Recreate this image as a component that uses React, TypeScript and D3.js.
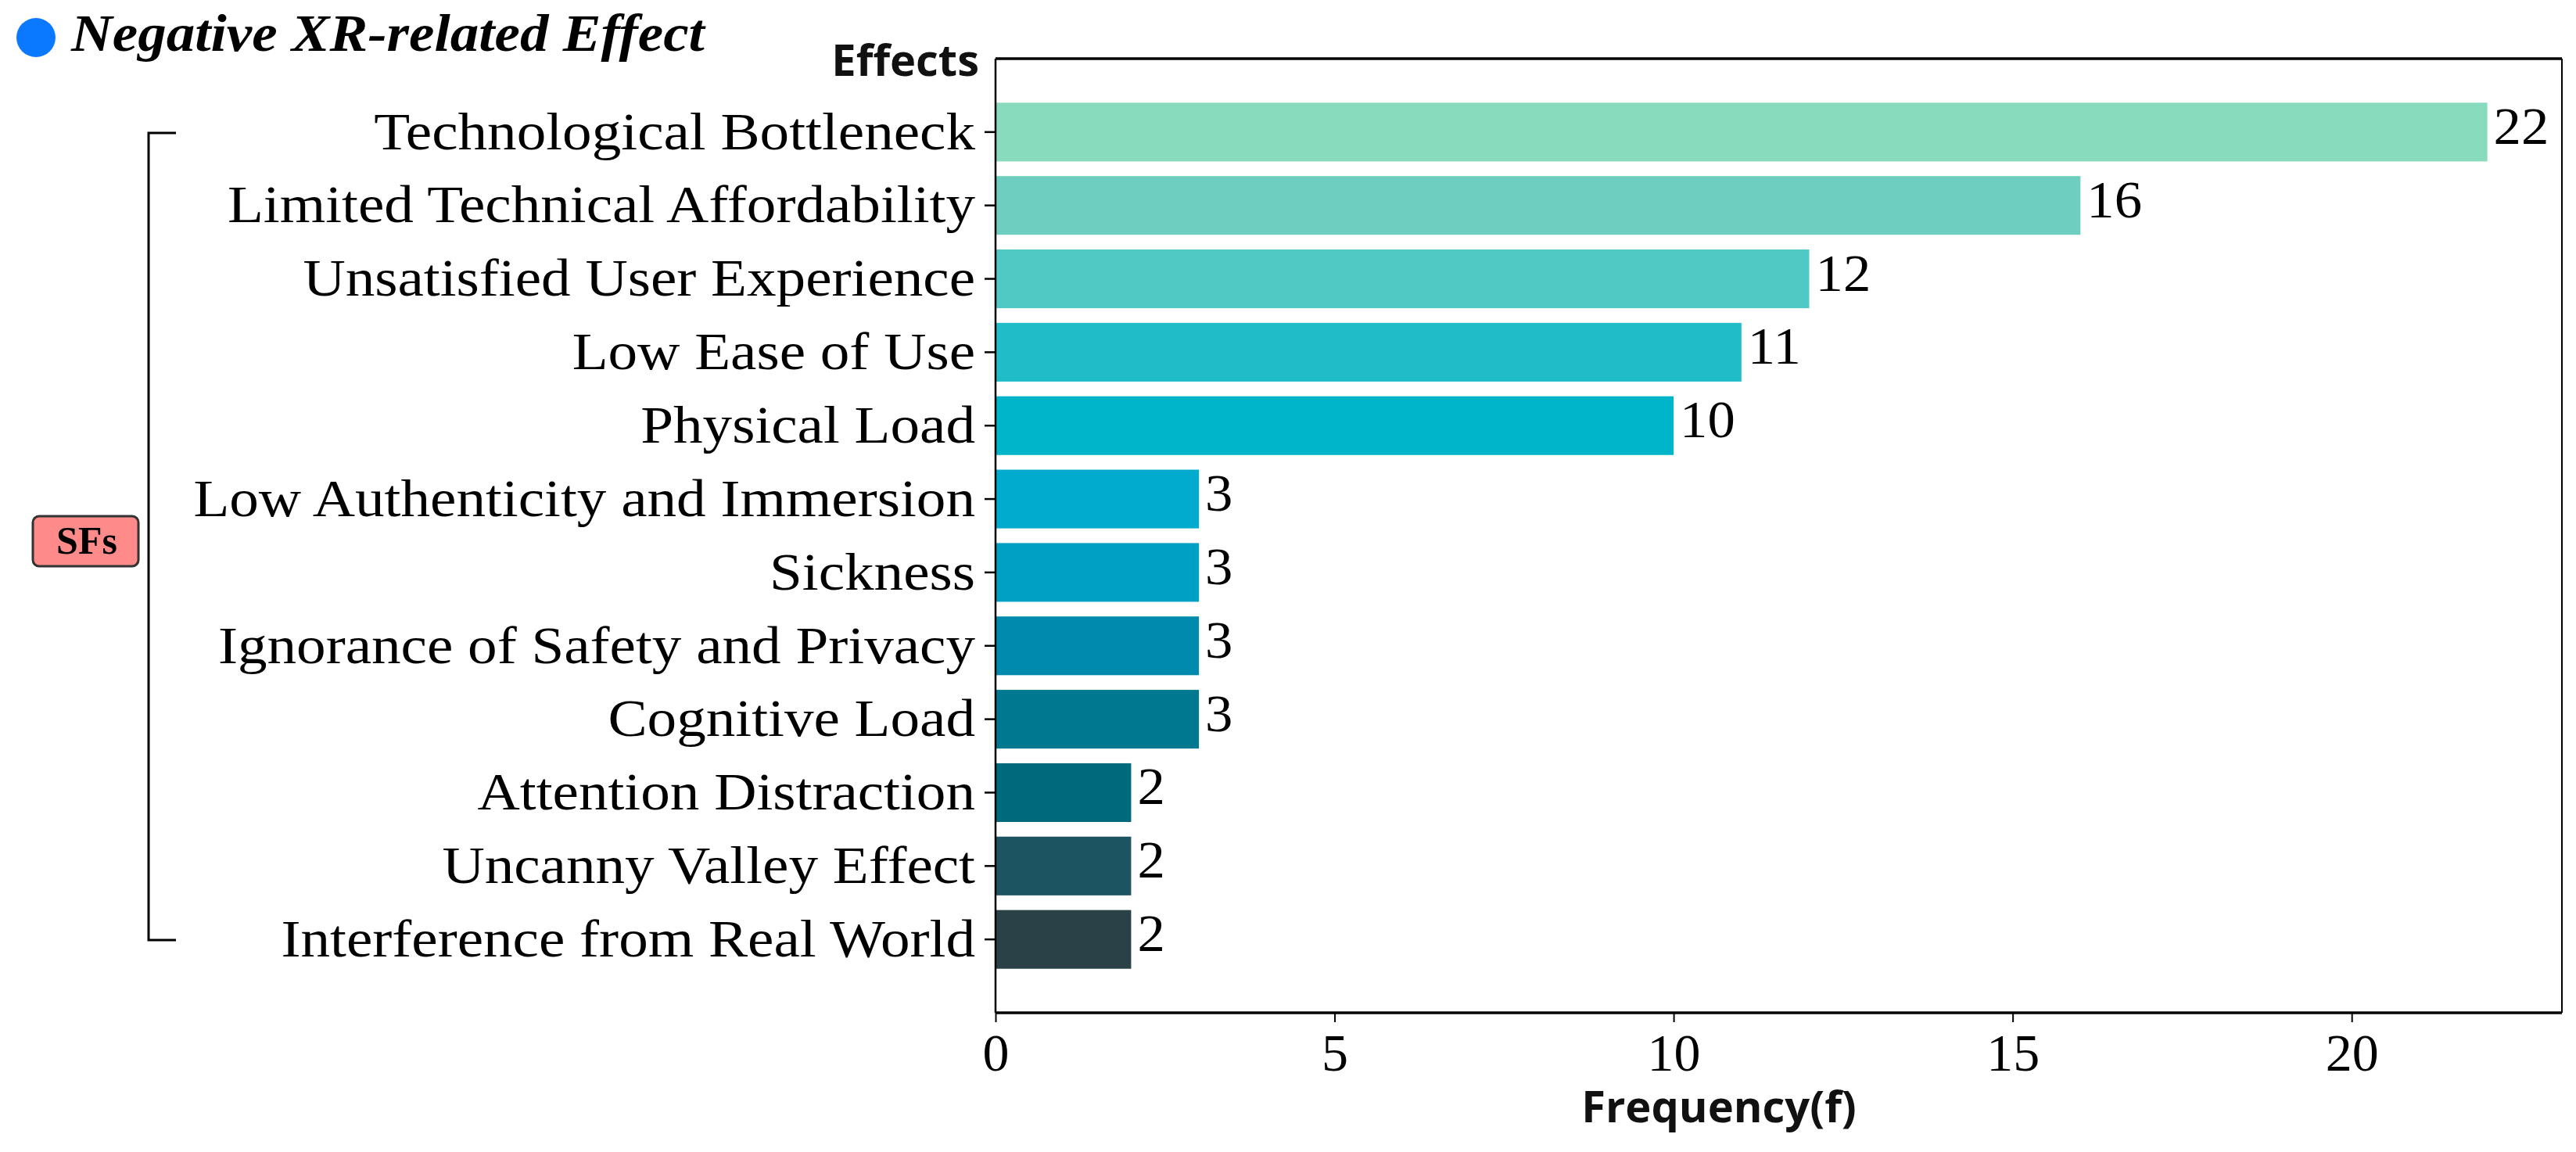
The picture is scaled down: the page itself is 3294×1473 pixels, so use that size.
import React, { useEffect, useRef } from 'react';
import * as d3 from 'd3';

const categories = [
  "Technological Bottleneck",
  "Limited Technical Affordability",
  "Unsatisfied User Experience",
  "Low Ease of Use",
  "Physical Load",
  "Low Authenticity and Immersion",
  "Sickness",
  "Ignorance of Safety and Privacy",
  "Cognitive Load",
  "Attention Distraction",
  "Uncanny Valley Effect",
  "Interference from Real World",
];

const frequencies = [22, 16, 12, 11, 10, 3, 3, 3, 3, 2, 2, 2];

const barColors = [
  "#88dbbc", "#6ecfc0", "#50c8c4", "#20bdc8", "#00b5ca", "#00abcd",
  "#00a0c5", "#008bae", "#007890", "#006a7d", "#1d5462", "#2a4148",
];

const xTicks = [0, 5, 10, 15, 20];

const W = 3294;
const H = 1473;

// Liberation Serif is narrower than the Palatino-like face of the original,
// so widen each serif text a bit
const widen = (sel: d3.Selection<any, any, any, any>, k: number) => {
  sel.each(function () {
    const el = this as SVGTextElement;
    const len = el.getComputedTextLength();
    el.setAttribute("textLength", String(len * k));
    el.setAttribute("lengthAdjust", "spacingAndGlyphs");
  });
};

const App: React.FC = () => {
  const svgRef = useRef<SVGSVGElement>(null);

  useEffect(() => {
    if (!svgRef.current) return;
    const svg = d3.select(svgRef.current);
    svg.selectAll("*").remove();

    const left = 1273, right = 3276, top = 75, bottom = 1295;
    const serif = "'Liberation Serif', 'DejaVu Serif', serif";
    const sans = "'Open Sans', 'Noto Sans', sans-serif";

    const x = d3.scaleLinear().domain([0, d3.max(frequencies)! * 1.05]).range([left, right]);
    const y = d3.scaleBand<string>()
      .domain(categories)
      .range([top, bottom])
      .paddingInner(0.2)
      .paddingOuter(0.6);

    // bars
    svg.append("g")
      .selectAll("rect")
      .data(categories)
      .join("rect")
      .attr("x", x(0))
      .attr("y", d => y(d)!)
      .attr("width", (d, i) => x(frequencies[i]) - x(0))
      .attr("height", y.bandwidth())
      .attr("fill", (d, i) => barColors[i]);

    // value labels
    const vals = svg.append("g")
      .selectAll("text")
      .data(categories)
      .join("text")
      .attr("x", (d, i) => x(frequencies[i]) + 8)
      .attr("y", d => y(d)! + y.bandwidth() / 2 - 8)
      .attr("dominant-baseline", "central")
      .style("font-family", serif)
      .style("font-size", "68px")
      .style("fill", "#000")
      .text((d, i) => String(frequencies[i]));
    widen(vals, 1.04);

    // y axis
    const yAxis = svg.append("g")
      .attr("transform", `translate(${left},0)`)
      .call(d3.axisLeft(y).tickSize(14).tickPadding(12));
    yAxis.select(".domain").remove();
    yAxis.selectAll(".tick line").attr("stroke", "#000").attr("stroke-width", 2.5);
    const yLabels = yAxis.selectAll(".tick text")
      .style("font-family", serif)
      .style("font-size", "68px")
      .style("fill", "#000");
    widen(yLabels as any, 1.105);

    // x axis
    const xAxis = svg.append("g")
      .attr("transform", `translate(0,${bottom})`)
      .call(d3.axisBottom(x).tickValues(xTicks).tickSize(12).tickPadding(14));
    xAxis.select(".domain").remove();
    xAxis.selectAll(".tick line").attr("stroke", "#000").attr("stroke-width", 2);
    xAxis.selectAll(".tick text")
      .style("font-family", serif)
      .style("font-size", "68px")
      .style("fill", "#000");

    // frame
    svg.append("line").attr("x1", left).attr("x2", right).attr("y1", top).attr("y2", top)
      .attr("stroke", "#000").attr("stroke-width", 3.5);
    svg.append("line").attr("x1", left).attr("x2", right).attr("y1", bottom).attr("y2", bottom)
      .attr("stroke", "#000").attr("stroke-width", 3.5);
    svg.append("line").attr("x1", left).attr("x2", left).attr("y1", top).attr("y2", bottom)
      .attr("stroke", "#000").attr("stroke-width", 2.5);
    svg.append("line").attr("x1", right).attr("x2", right).attr("y1", top).attr("y2", bottom)
      .attr("stroke", "#000").attr("stroke-width", 2);

    // axis titles
    svg.append("text")
      .attr("x", 1252).attr("y", 97)
      .attr("text-anchor", "end")
      .style("font-family", sans)
      .style("font-weight", "700")
      .style("font-size", "56px")
      .style("fill", "#111")
      .text("Effects");

    svg.append("text")
      .attr("x", 2198).attr("y", 1435)
      .attr("text-anchor", "middle")
      .style("font-family", sans)
      .style("font-weight", "700")
      .style("font-size", "56px")
      .style("fill", "#111")
      .text("Frequency(f)");

    // title
    svg.append("circle").attr("cx", 46).attr("cy", 48).attr("r", 25).attr("fill", "#0a78ff");
    const title = svg.append("text")
      .attr("x", 91).attr("y", 65)
      .style("font-family", serif)
      .style("font-weight", "700")
      .style("font-style", "italic")
      .style("font-size", "68px")
      .style("fill", "#000")
      .text("Negative XR-related Effect");
    widen(title, 1.074);

    // bracket
    const bx = 190, by0 = 170, by1 = 1202, stub = 225;
    svg.append("path")
      .attr("d", `M${stub},${by0} H${bx} V${by1} H${stub}`)
      .attr("fill", "none")
      .attr("stroke", "#000")
      .attr("stroke-width", 3);

    svg.append("rect")
      .attr("x", 42).attr("y", 660).attr("width", 135).attr("height", 64).attr("rx", 8)
      .attr("fill", "#ff8a8a").attr("stroke", "#333").attr("stroke-width", 3);
    svg.append("text")
      .attr("x", 111).attr("y", 708)
      .attr("text-anchor", "middle")
      .style("font-family", serif)
      .style("font-weight", "700")
      .style("font-size", "50px")
      .style("fill", "#000")
      .text("SFs");
  }, []);

  return (
    <svg
      ref={svgRef}
      width={W}
      height={H}
      style={{ position: "absolute", left: 0, top: 0, background: "#fff" }}
    />
  );
};

export default App;
